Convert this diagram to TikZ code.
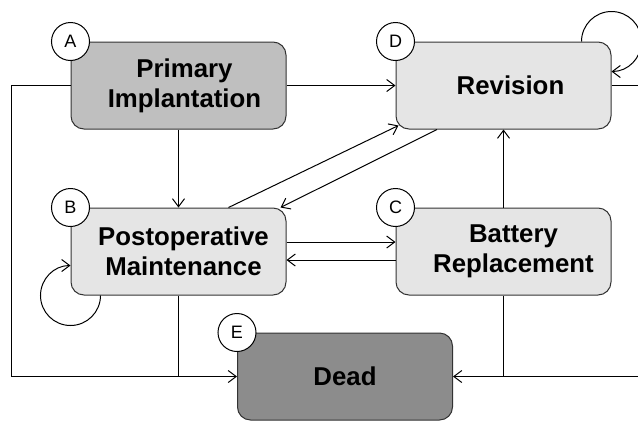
\documentclass[tikz,border=0pt]{standalone}
\usepackage{fontspec}
\setmainfont{Liberation Sans}
\usetikzlibrary{arrows.meta}

\begin{document}
\begin{tikzpicture}[x=1pt,y=-1pt,line width=1pt,
  >={Straight Barb[length=8pt,width=12pt]},
  state/.style={draw=black!80,rounded corners=13pt,minimum width=215pt,minimum height=87pt,
    align=center,inner sep=0pt,font=\fontsize{25.8}{30}\selectfont\bfseries},
  tag/.style={draw,circle,fill=white,minimum size=38pt,inner sep=0pt,
    font=\fontsize{18}{20}\selectfont}]
\path[use as bounding box,clip] (0,0) rectangle (638,421);
\node[state,fill=black!25] (A) at (178.5,85.5) {\hspace*{12pt}Primary\\\hspace*{12pt}Implantation};
\node[state,fill=black!10] (D) at (503.5,85.5) {\hspace*{14pt}Revision};
\node[state,fill=black!10] (B) at (178.5,251.5) {\hspace*{10pt}Postoperative\\\hspace*{10pt}Maintenance};
\node[state,fill=black!10] (C) at (503.5,251.5) {\hspace*{20pt}Battery\\\hspace*{20pt}Replacement};
\node[state,fill=black!45] (E) at (345,376.5) {Dead};
\node[tag] (tA) at (A.north west) {A};
\node[tag] (tD) at (D.north west) {D};
\node[tag] (tB) at (B.north west) {B};
\node[tag] (tC) at (C.north west) {C};
\node[tag] (tE) at (E.north west) {E};
\coordinate (cornerL) at (11,376.5);
\coordinate (cornerR) at (660,85.5);
\draw[->] (A.west) -| (cornerL) -- (E.west);
\draw (B.south) -- (B.south |- E.west);
\draw[->] (A.east) -- (D.west);
\draw[->] (D.east) -- (cornerR) |- (E.east);
\draw (C.south) -- (C.south |- E.east);
\draw[->] (C.north) -- (D.south);
\draw[->] (A.south) -- (B.north);
\draw[->] ([yshift=9.5pt]B.east) -- ([yshift=9.5pt]C.west);
\draw[->] ([yshift=-8.5pt]C.west) -- ([yshift=-8.5pt]B.east);
\draw[->] ([xshift=50pt]B.north) -- ([xshift=3pt,yshift=4pt]D.south west);
\draw[->] ([xshift=-66.5pt]D.south) -- ([xshift=-6pt]B.north east);
\draw[->] ([xshift=30pt]B.south west) arc[start angle=0,end angle=-270,radius=30pt];
\draw[->] ([xshift=-30pt]D.north east) arc[start angle=180,end angle=-90,radius=30pt];
\end{tikzpicture}
\end{document}
